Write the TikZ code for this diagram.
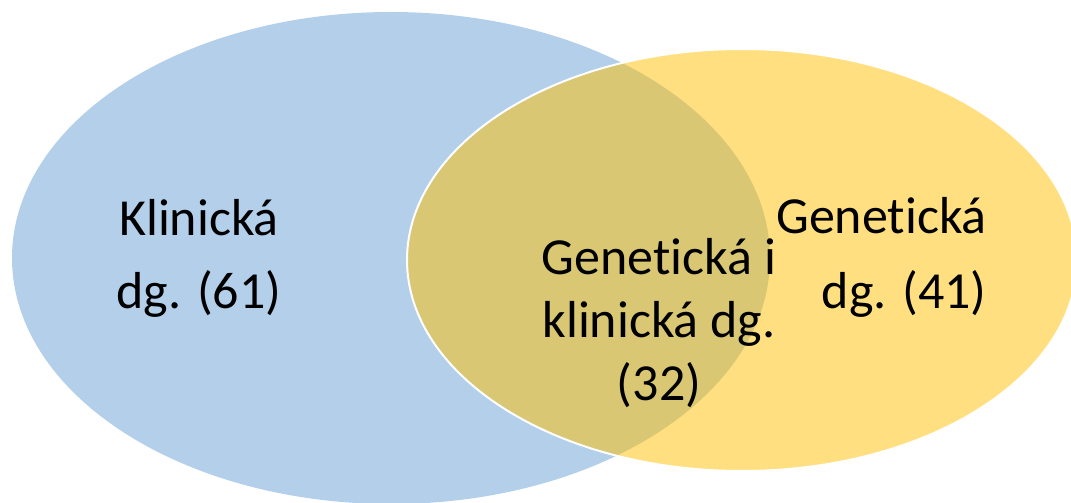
\documentclass[tikz,border=0pt]{standalone}
\usepackage{fontspec}
\setmainfont[Ligatures=NoCommon]{Carlito}
\definecolor{bluefill}{RGB}{179,207,234}
\definecolor{yellowbase}{RGB}{255,192,0}
\begin{document}
\begin{tikzpicture}[x=1pt,y=-1pt,
  lbl/.style={anchor=base,inner sep=0pt,font=\fontsize{52}{62}\selectfont,text=black},
  setA/.style={fill=bluefill,draw=none},
  setB/.style={fill=yellowbase,fill opacity=0.5,draw=white,draw opacity=1,line width=2pt}]
\useasboundingbox (0,0) rectangle (1071,503);
\path[setA] (391,258) ellipse [x radius=379, y radius=246];
\path[setB] (742,260) ellipse [x radius=335, y radius=211];
\node[lbl] (k1) at (199,235) {Klinická};
\node[lbl] (k2) at (199,308) {dg. (61)};
\node[lbl] (c1) at (659,274) {Genetická i};
\node[lbl] (c2) at (659,337) {klinická dg.};
\node[lbl] (c3) at (659,400) {(32)};
\node[lbl,anchor=base east] (g1) at (987,233) {Genetická};
\node[lbl,anchor=base east] (g2) at (987,308) {dg. (41)};
\end{tikzpicture}
\end{document}
